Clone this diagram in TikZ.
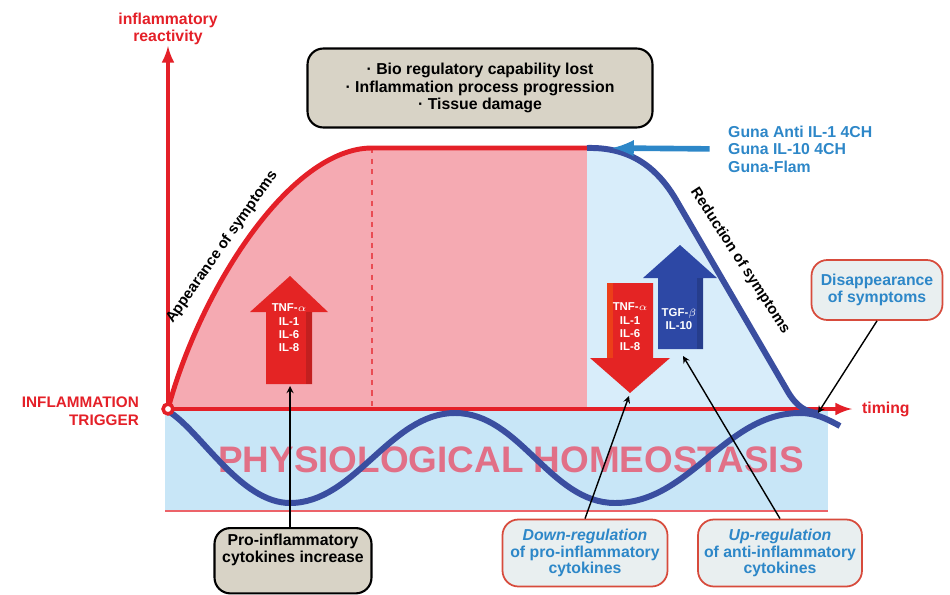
\documentclass[tikz,border=0pt]{standalone}
\usepackage{fontspec}
\setmainfont{Liberation Sans}
\usetikzlibrary{calc}
\definecolor{axisred}{RGB}{228,32,40}
\definecolor{pinkarea}{RGB}{245,170,178}
\definecolor{curveblue}{RGB}{58,78,160}
\definecolor{bandblue}{RGB}{200,230,247}
\definecolor{skyarea}{RGB}{216,237,250}
\definecolor{gunablue}{RGB}{45,135,200}
\definecolor{homeopink}{RGB}{225,112,135}
\definecolor{boxbeige}{RGB}{216,211,198}
\definecolor{boxpale}{RGB}{233,239,240}
\definecolor{boxedge}{RGB}{215,75,60}
\definecolor{fatred}{RGB}{228,36,36}
\definecolor{fatblue}{RGB}{45,72,165}

\begin{document}
\begin{tikzpicture}[x=0.02cm,y=-0.02cm]
				    \tikzstyle{axis}=[draw,line width=2.2pt,axisred,-latex]
				    \tikzstyle{rise}=[draw,line width=2.8pt,axisred]
				    \tikzstyle{wave}=[draw,line width=3.4pt,curveblue]
				    \tikzstyle{lbl}=[font=\fontsize{9}{10}\selectfont\bfseries]
				    \tikzstyle{greybox}=[draw,line width=1.2pt,fill=boxbeige,rounded corners=9pt,align=center,lbl]
				    \tikzstyle{palebox}=[draw=boxedge,line width=1pt,fill=boxpale,rounded corners=9pt,align=center,text=gunablue,font=\fontsize{9}{9.4}\selectfont\bfseries]
				    \tikzstyle{cyto}=[align=center,text=white,font=\fontsize{6.5}{7.6}\selectfont\bfseries]
				    \tikzstyle{conn}=[draw,line width=.8pt,-stealth]
				    \useasboundingbox (0,0) rectangle (950,595);
				    \coordinate (origin) at (168,409);
				    \coordinate (plateau) at (372,148);
				    \coordinate (turn) at (587,148);
				    \coordinate (gunatip) at (612,148);
				    \coordinate (calm) at (818,413);
				    \coordinate (uptail) at (290,386);
				    \coordinate (downtip) at (629,396);
				    \coordinate (antitail) at (683,356);
				    \fill[bandblue] (165,409) rectangle (828,511);
				    \draw[axisred!70,line width=.6pt] (165,511) -- (828,511);
				    \fill[pinkarea] (origin) .. controls (200,290) and (290,148) .. (plateau) -- (turn) -- (587,409) -- cycle;
				    \fill[skyarea] (turn) .. controls (628,147) and (655,165) .. (675,198) -- (788,392) -- (798,409) -- (587,409) -- cycle;
				    \node[font=\fontsize{21}{21}\selectfont\bfseries,text=homeopink] (homeo) at (511,460) {PHYSIOLOGICAL HOMEOSTASIS};
				    \draw[axisred!80,dashed,line width=.8pt] (plateau) -- (372,409);
				    \draw[axis] (origin) -- (168,46);
				    \draw[axis] (origin) -- (852,409);
				    \draw[wave] (168,411) .. controls (200,430) and (240,503) .. (290,503) .. controls (355,503) and (390,413) .. (455,413) .. controls (520,413) and (550,503) .. (615,503) .. controls (690,503) and (725,413) .. (800,413) .. controls (815,413) and (825,418) .. (840,426);
				    \draw[rise] (origin) .. controls (200,290) and (290,148) .. (plateau) -- (turn);
				    \draw[wave] (turn) .. controls (628,147) and (655,165) .. (675,198) -- (788,392) .. controls (797,407) and (806,412) .. (calm);
				    \fill[fatred] (266,384) -- (266,312) -- (250,312) -- (290,276) -- (328,312) -- (312,312) -- (312,384) -- cycle;
				    \fill[fatred!85!black] (306,312) -- (312,312) -- (312,384) -- (306,384) -- cycle;
				    \fill[fatred] (607,283) -- (653,283) -- (653,358) -- (670,358) -- (630,393) -- (590,358) -- (607,358) -- cycle;
				    \fill[fatred!70!orange] (607,283) -- (613,283) -- (613,358) -- (607,358) -- cycle;
				    \fill[fatblue] (658,349) -- (658,278) -- (643,278) -- (680,245) -- (717,278) -- (703,278) -- (703,349) -- cycle;
				    \fill[fatblue!85!black] (697,278) -- (703,278) -- (703,349) -- (697,349) -- cycle;
				    \node[cyto] (upcyto) at (289,328) {TNF-$\alpha$\\IL-1\\IL-6\\IL-8};
				    \node[cyto] (downcyto) at (630,327) {TNF-$\alpha$\\IL-1\\IL-6\\IL-8};
				    \node[cyto] (anticyto) at (679,319) {TGF-$\beta$\\IL-10};
				    \draw[axisred,line width=2pt,fill=white] (origin) circle (2.8pt);
				    \node[lbl,text=axisred,align=center] (ylab) at (168,29) {inflammatory\\reactivity};
				    \node[lbl,text=axisred,align=right,anchor=east,font=\fontsize{8.7}{10}\selectfont\bfseries] (trigger) at (145,411) {INFLAMMATION\\TRIGGER};
				    \node[lbl,text=axisred,anchor=west] (timing) at (856,409) {timing};
				    \node[lbl,font=\fontsize{8.5}{10}\selectfont\bfseries,rotate=55] (appear) at (222,247) {Appearance of symptoms};
				    \node[lbl,font=\fontsize{8.5}{10}\selectfont\bfseries,rotate=-57] (reduce) at (740,261) {Reduction of symptoms};
				    \node[greybox,minimum width=6.9cm,minimum height=1.58cm] (lostbox) at (480,88) {· Bio regulatory capability lost\\· Inflammation process progression\\· Tissue damage};
				    \node[lbl,text=gunablue,align=left,anchor=west] (guna) at (722,149) {Guna Anti IL-1 4CH\\Guna IL-10 4CH\\Guna-Flam};
				    \draw[gunablue,line width=3.2pt,-latex,shorten <=7pt] (guna.west) -- (gunatip);
				    \node[palebox,minimum width=2.62cm,minimum height=1.2cm] (gonebox) at (877,290) {Disappearance\\of symptoms};
				    \node[greybox,anchor=north,minimum width=3.14cm,text depth=14pt] (probox) at (293,527) {Pro-inflammatory\\cytokines increase};
				    \node[palebox,minimum width=3.3cm,minimum height=1.34cm] (downbox) at (585,553) {\itshape Down-regulation\\of pro-inflammatory\\cytokines};
				    \node[palebox,minimum width=3.28cm,minimum height=1.34cm] (upbox) at (780,553) {\itshape Up-regulation\\of anti-inflammatory\\cytokines};
				    \draw[conn] (probox.north -| uptail) -- (uptail);
				    \draw[conn] (downbox.north) -- (downtip);
				    \draw[conn] (upbox.north) -- (antitail);
				    \draw[conn] (gonebox.south) -- (calm);
				\end{tikzpicture}
\end{document}
